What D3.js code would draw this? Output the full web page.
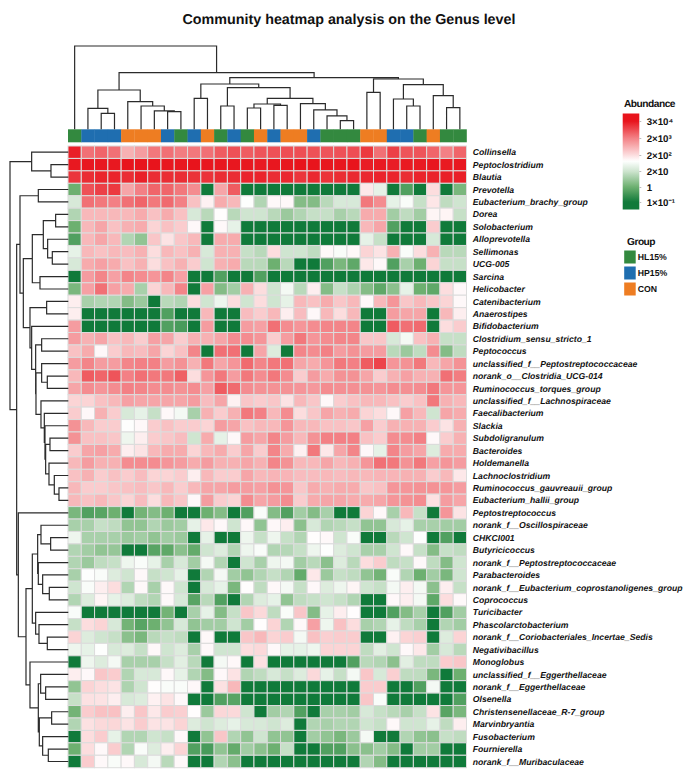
<!DOCTYPE html>
<html>
<head>
<meta charset="utf-8">
<script src="https://cdn.jsdelivr.net/npm/d3@7"></script>
<style>
body { margin: 0; background: #fff; }
text { font-family: "Liberation Sans", Arial, sans-serif; fill: #111; text-rendering: geometricPrecision; }
</style>
</head>
<body>
<svg id="chart" width="690" height="775"></svg>
<script>
const genera = ["Collinsella","Peptoclostridium","Blautia","Prevotella","Eubacterium_brachy_group","Dorea","Solobacterium","Alloprevotella","Sellimonas","UCG-005","Sarcina","Helicobacter","Catenibacterium","Anaerostipes","Bifidobacterium","Clostridium_sensu_stricto_1","Peptococcus","unclassified_f__Peptostreptococcaceae","norank_o__Clostridia_UCG-014","Ruminococcus_torques_group","unclassified_f__Lachnospiraceae","Faecalibacterium","Slackia","Subdoligranulum","Bacteroides","Holdemanella","Lachnoclostridium","Ruminococcus_gauvreauii_group","Eubacterium_hallii_group","Peptostreptococcus","norank_f__Oscillospiraceae","CHKCI001","Butyricicoccus","norank_f__Peptostreptococcaceae","Parabacteroides","norank_f__Eubacterium_coprostanoligenes_group","Coprococcus","Turicibacter","Phascolarctobacterium","norank_f__Coriobacteriales_Incertae_Sedis","Negativibacillus","Monoglobus","unclassified_f__Eggerthellaceae","norank_f__Eggerthellaceae","Olsenella","Christensenellaceae_R-7_group","Marvinbryantia","Fusobacterium","Fournierella","norank_f__Muribaculaceae"];

// group of each sample, left to right
const sampleGroups = ["HL15%","HP15%","HP15%","HP15%","CON","CON","CON","HP15%","HL15%","HP15%","CON","HL15%","HP15%","HL15%","CON","HP15%","CON","CON","HP15%","HL15%","HL15%","HL15%","CON","CON","HP15%","HP15%","HL15%","CON","HL15%","HL15%"];

const groupNames = ["HL15%","HP15%","CON"];
const groupColors = ["#33893f","#1f6eb0","#ee7d22"];

// one row per genus
const abundance = [
[22000,3000,4000,3000,600,1000,2500,3000,2200,2500,3000,5000,6500,5000,6000,6500,7000,7000,6500,6000,6500,7000,12000,3000,10000,6000,6000,4000,2000,4000],
[27000,27000,27000,27000,30000,30000,30000,27000,27000,30000,28000,28000,28000,27000,26000,28000,28000,30000,30000,28000,28000,30000,24000,26000,24000,26000,26000,28000,26000,27000],
[13000,16000,20000,20000,16000,22000,16000,16000,16000,14000,14000,16000,16000,20000,20000,16000,18000,13000,18000,14000,16000,18000,18000,20000,20000,16000,20000,20000,22000,22000],
[1,6500,10000,12000,800,2000,4000,4000,2500,1500,0.1,800,5000,0.1,0.1,0.1,0.1,0.1,0.1,0.1,0.1,0.1,150,40,0.1,0.5,0.1,200,0.1,1.5],
[25,3000,2500,2000,3000,4000,2500,3500,2000,400,120,700,500,80,8,100,100,2,2,10,25,25,2500,1500,40,70,15,160,12,20],
[8,500,500,500,500,700,400,700,400,25,10,90,10,20,20,10,4,8,15,15,6,10,700,700,5,12,5,110,110,15],
[1,500,800,400,600,700,250,400,300,100,0.1,100,40,0.1,0.1,0.1,0.1,0.1,0.1,0.1,0.1,0.1,500,800,0.5,0.1,0.1,300,0.1,0.1],
[0.5,500,800,500,8,3,350,170,350,500,0.1,700,700,0.1,0.1,0.1,0.1,0.1,0.1,0.1,0.1,0.1,40,15,0.1,0.1,0.1,25,0.1,0.1],
[40,500,400,500,450,600,200,500,400,600,25,600,600,15,10,200,20,20,12,100,70,100,250,170,600,70,200,600,10,10],
[25,700,900,700,400,600,200,400,600,300,20,600,700,10,10,1,10,0.1,0.1,0.5,1.5,0.7,150,100,0.5,6,1,250,15,15],
[0.1,1000,1800,900,1800,1500,1200,1800,900,0.1,0.1,0.5,0.1,0.1,0.5,0.1,0.1,0.1,0.1,0.1,0.1,0.1,0.1,0.1,0.1,0.1,0.1,0.1,0.1,0.1],
[1.5,900,3000,900,700,6,250,500,1800,0.1,900,2,5,600,200,20,60,10,130,2,15,7,2,0.7,2.5,40,1,0.7,200,100],
[130,6,8,8,2,4,0.1,10,8,200,20,50,200,20,200,20,40,500,400,700,350,500,100,500,1200,350,500,350,250,100],
[130,0.1,0.1,0.1,0.1,0.1,0.1,0.5,0.1,0.1,500,0.1,0.1,450,300,500,130,450,100,500,200,500,0.1,0.1,1000,800,800,0.1,500,130],
[1000,0.1,0.1,0.1,0.1,0.1,0.1,0.5,0.4,0.1,1000,0.1,0.1,1000,900,3000,1500,1200,1500,1800,1800,1800,0.1,0.1,5000,3000,3500,0.1,200,300],
[1000,600,800,400,500,300,900,800,300,600,600,800,1500,1500,1200,300,1000,2500,1200,1500,1800,1800,350,350,25,60,400,600,15,15],
[400,700,100,300,500,450,800,250,400,1800,0.1,3000,3000,0.1,800,30,0.1,1800,1500,2000,1000,1300,1000,1000,10,4,12,1500,2,12],
[1000,1800,1000,1000,1800,2000,2000,1000,1300,600,2500,800,1200,3500,1800,2500,3000,800,700,1200,2500,2000,5000,9000,1200,1300,2500,500,800,1300],
[500,5000,4000,6000,2000,3000,2500,2500,4500,200,1200,2500,1000,2500,1500,2500,1500,300,1000,700,1300,1300,800,300,600,900,600,600,3000,2200],
[800,1500,1200,1500,2000,1800,1500,1500,1300,1500,900,5000,3500,1500,1300,1300,1300,1200,1100,1500,1400,1400,1300,1200,1500,1400,1500,2500,1200,1200],
[250,250,400,500,900,800,800,800,800,1000,450,800,120,350,300,350,170,500,350,100,300,400,500,500,400,300,400,2500,600,500],
[300,100,600,300,25,40,15,100,60,6,600,300,600,2500,2000,500,1500,200,350,800,600,700,250,200,100,900,500,20,800,700],
[1300,500,300,300,80,100,300,400,300,300,250,1000,800,400,500,500,1200,500,500,400,400,350,900,300,600,600,600,300,170,600],
[1300,400,400,350,50,130,300,350,450,20,700,40,100,1000,800,1800,1000,500,1300,2000,2000,2000,400,300,1500,1500,2000,100,300,600],
[300,800,900,700,130,170,500,700,700,250,500,700,300,800,300,1800,700,120,2500,150,800,1800,100,40,1800,1000,800,30,700,700],
[500,1000,600,600,1500,1500,1500,1200,1000,700,1000,600,600,800,600,1800,1300,500,500,800,500,600,1200,3000,2500,1300,2500,900,1200,1000],
[400,600,300,400,300,450,250,250,300,130,500,300,300,800,500,550,550,450,450,500,450,500,500,550,550,600,600,300,500,150],
[500,300,300,350,400,450,350,500,300,500,800,800,1000,1000,900,1300,1200,350,700,600,700,700,350,400,1200,1200,1300,1300,1200,1000],
[500,400,500,350,250,450,200,500,350,100,1000,300,250,1500,800,1000,1500,300,700,800,800,700,700,800,1200,1300,1500,180,1000,800],
[1.5,0.5,0.6,1,0.1,1.2,2,1,0.1,0.1,1,2,0.1,0.5,70,2,0.5,5,2,6,0.1,0.1,250,100,6,500,15,0.1,1200,170],
[6,6,15,12,3,3,8,4,5,40,150,100,20,100,3,100,130,2.5,25,8,10,15,3,3,25,40,6,6,5,5],
[50,6,6,6,4,5,3,5,4,0.1,40,0.1,0.1,50,15,50,15,8,90,100,20,70,0.1,0.1,10,20,80,0.1,0.5,0.1],
[8,5,3,3.5,0.1,0.1,0.6,0.7,2.5,0.8,20,30,8,50,70,8,9,15,50,80,30,20,6,6,20,100,15,2,15,12],
[8,4,12,15,50,70,40,6,25,5,60,8,0.1,20,6,50,60,5,10,2.5,30,10,200,300,12,15,100,12,2,20],
[6,80,70,30,20,100,15,20,40,0.1,8,60,5,3,8,15,8,0.8,150,4,15,12,3,1.2,70,8,1,5,1.5,20],
[20,70,130,200,8,100,6,100,20,0.1,25,40,1.5,90,12,100,60,15,100,30,50,110,20,15,60,130,60,2.5,130,15],
[8,30,110,40,30,12,8,100,25,0.6,10,0.5,0.1,8,30,40,3,12,15,20,15,8,0.1,0.1,100,130,60,0.7,200,100],
[70,0.1,0.1,0.1,0.1,0.1,0.1,1.2,0.1,6,40,2,15,350,220,12,70,350,2,40,130,90,0.1,0.1,0.5,2,6,0.1,0.5,5],
[15,200,250,25,1.2,0.6,1,3,25,3,5,5,20,5,90,250,8,100,900,50,400,200,6,8,40,12,6,0.1,8,5],
[250,30,20,15,2.5,1.5,10,15,12,0.1,100,0.1,0.1,350,500,250,300,60,400,280,300,300,0.1,0.1,120,250,280,0.1,30,250],
[50,40,80,25,30,15,100,20,30,6,100,20,20,200,220,100,40,40,50,250,250,250,12,35,20,100,150,5,25,10],
[0.1,50,30,60,6,6,6,15,35,10,0.1,60,100,0.1,180,0.1,0.1,0.1,0.1,0.1,0.1,0.5,10,8,2.5,35,12,12,300,350],
[130,100,350,300,8,25,25,100,40,8,2,100,170,8,12,25,15,30,220,40,15,60,350,25,280,12,12,1.5,0.1,1],
[3,250,200,170,7,20,90,70,70,100,0.1,180,500,0.1,0.1,0.1,0.1,0.1,0.1,0.1,0.1,0.1,300,300,0.1,0.1,0.5,60,0.1,0.1],
[15,180,170,130,25,30,120,170,100,0.1,0.1,0.5,0.6,0.1,0.1,0.1,0.1,0.1,0.1,0.1,0.1,0.1,350,70,0.1,0.1,0.1,0.1,0.1,0.5],
[1.2,300,400,400,130,350,150,300,280,90,4,230,220,20,0.1,5,8,0.5,0.1,6,6,5,25,15,10,6,15,170,0.6,1.5],
[8,180,220,230,170,300,170,170,250,30,20,30,40,25,25,20,30,0.1,8,6,8,8,20,15,100,20,20,40,12,130],
[0.1,200,300,40,8,8,20,15,100,0.1,3,350,8,3,20,3,3,0.1,5,3,1.5,4,60,0.1,0.1,8,3,2.5,15,12],
[1,200,100,300,8,70,30,130,250,0.5,0.4,3,0.8,5,2.5,1,15,0.1,0.1,0.5,0.5,2.5,2.5,5,2,0.1,5,5,0.1,0.1],
[0.1,300,100,70,100,25,60,10,100,0.1,0.1,8,2.5,0.1,0.1,0.1,0.1,0.1,0.1,0.1,0.1,0.1,8,2,0.1,0.1,0.1,0.1,0.1,0.1]
];

// dendrograms: [merge height, left, right], a bare number is a leaf (1-based column or row)
const colTree = [250, 1, [170,
  [118, [63, 2, [48, 3, 4]], [83, 5, [70, 6, [55, 7, [53, 8, 9]]]]],
  [155,
    [136, [93, 10, 11], [125, [70, 12, 13], [93,
      [76, [64, 14, 15], [72, 16, 17]],
      [77, 18, [58, 19, [40, 20, [26, 21, 22]]]]]]],
    [151, [111, 23, 24], [134, [91, 25, [70, 26, 27]], [101, 28, [65, 29, 30]]]]]]];

const rowTree = [175, [110, 1, [52, 2, 3]], [155,
  [145, [90, 4, 5], [135,
    [108, [75, [38, 6, 7], [62, 8, [48, 9, 10]]], [85, 11, 12]],
    [115, [65, 13, 14], [110, 15, [98, [80, 16, 17], [97,
      [80, 18, [63, 19, 20]],
      [82, 21, [72, 22, [70, 23, [68, [55, 24, 25], [58, 26, [42, 27, [28, 28, 29]]]]]]]]]]]]],
  [150, 30, [127,
    [108, [92, [82, 31, [53, 32, 33]], [90, 34, [77, 35, [57, 36, 37]]]], [98, 38, [88, 39, [63, 40, 41]]]],
    [115, 42, [90, [83, 43, [68, 44, 45]], [87, [50, 46, 47], [77, 48, [60, 49, 50]]]]]]]]];

// legend
const legendTicks = [0.03, 0.1, 1, 20, 200, 2000, 30000, 80000];
const legendTickY = [209.5, 202, 187, 171, 155, 138, 121, 113.5];
const legendLabels = {0.1: "1×10⁻¹", 1: "1", 20: "2×10", 200: "2×10²", 2000: "2×10³", 30000: "3×10⁴"};

const svg = d3.select("#chart");

svg.append("text").attr("x", 349).attr("y", 24)
  .attr("text-anchor", "middle").attr("font-weight", "bold").attr("font-size", 14.3)
  .text("Community heatmap analysis on the Genus level");

const heatLeft = 68, heatRight = 466.5, heatTop = 146, heatBottom = 767.7;

const x = d3.scaleBand().domain(d3.range(1, sampleGroups.length + 1)).range([heatLeft, heatRight]);
const y = d3.scaleBand().domain(d3.range(1, genera.length + 1)).range([heatTop, heatBottom]);

const color = d3.scaleLog().domain([0.1, 1, 85, 30000])
  .range(["#107a3a", "#6db070", "#ffffff", "#e8141c"]).clamp(true);
const groupColor = d3.scaleOrdinal().domain(groupNames).range(groupColors);

// heights of the two trees
const colH = d3.scaleLinear().domain([0, 250]).range([129.3, 46]);
const rowH = d3.scaleLinear().domain([0, 175]).range([68.3, 10]);

// group strip
svg.append("g").selectAll("rect").data(sampleGroups).enter().append("rect")
  .attr("x", (d, i) => x(i + 1))
  .attr("y", 129.3)
  .attr("width", x.bandwidth() + 0.3)
  .attr("height", 13)
  .attr("fill", d => groupColor(d));

// cells
const cells = abundance.flatMap((row, r) => row.map((v, c) => ({r: r + 1, c: c + 1, v: v})));
svg.append("g").selectAll("rect").data(cells).enter().append("rect")
  .attr("x", d => x(d.c))
  .attr("y", d => y(d.r))
  .attr("width", x.bandwidth())
  .attr("height", y.bandwidth())
  .attr("fill", d => color(d.v))
  .attr("stroke", "#dcdcdc")
  .attr("stroke-width", 1);

// genus labels
svg.append("g").selectAll("text").data(genera).enter().append("text")
  .attr("x", 472.8)
  .attr("y", (d, i) => y(i + 1) + y.bandwidth() / 2 + 3.1)
  .attr("font-size", 8.67).attr("font-weight", "bold").attr("font-style", "italic")
  .text(d => d);

// walks a tree, returns the leaf-axis centre of the node and adds its links to the path
function walk(node, pos, height, link) {
  if (!Array.isArray(node)) return {at: pos(node) + pos.bandwidth() / 2, h: height(0)};
  const a = walk(node[1], pos, height, link);
  const b = walk(node[2], pos, height, link);
  const h = height(node[0]);
  link(a, b, h);
  return {at: (a.at + b.at) / 2, h: h};
}

const colPath = d3.path();
walk(colTree, x, colH, (a, b, h) => {
  colPath.moveTo(a.at, a.h); colPath.lineTo(a.at, h);
  colPath.lineTo(b.at, h); colPath.lineTo(b.at, b.h);
});
const rowPath = d3.path();
walk(rowTree, y, rowH, (a, b, h) => {
  rowPath.moveTo(a.h, a.at); rowPath.lineTo(h, a.at);
  rowPath.lineTo(h, b.at); rowPath.lineTo(b.h, b.at);
});
svg.append("path").attr("d", colPath.toString()).attr("fill", "none").attr("stroke", "#2b2b2b").attr("stroke-width", 1.2);
svg.append("path").attr("d", rowPath.toString()).attr("fill", "none").attr("stroke", "#2b2b2b").attr("stroke-width", 1.2);

// abundance legend
const legendY = d3.scaleLog().domain(legendTicks).range(legendTickY);
const grad = svg.append("defs").append("linearGradient").attr("id", "abund")
  .attr("x1", 0).attr("x2", 0).attr("y1", 0).attr("y2", 1);
d3.range(0, 1.001, 0.02).forEach(t => {
  grad.append("stop").attr("offset", t).attr("stop-color", color(legendY.invert(113.5 + t * 96)));
});

svg.append("text").attr("x", 624).attr("y", 107)
  .attr("font-size", 10.2).attr("font-weight", "bold").attr("letter-spacing", -0.5).text("Abundance");
svg.append("rect").attr("x", 622.7).attr("y", 113.5).attr("width", 16.6).attr("height", 96).attr("fill", "url(#abund)");

const legendAxis = d3.axisRight(legendY)
  .tickValues(legendTicks.filter(d => legendLabels[d]))
  .tickFormat(d => legendLabels[d])
  .tickSize(2).tickPadding(5.4);
const axisG = svg.append("g").attr("transform", "translate(639.3,0)").call(legendAxis);
axisG.select(".domain").remove();
axisG.selectAll("line").attr("stroke", "#bbb");
axisG.selectAll("text").attr("font-size", 9.7).attr("font-weight", "bold")
  .attr("font-family", "'Liberation Sans', Arial, sans-serif").attr("fill", "#111");

// group legend
svg.append("text").attr("x", 627).attr("y", 245)
  .attr("font-size", 10.2).attr("font-weight", "bold").attr("letter-spacing", -0.5).text("Group");
const groupY = d3.scaleBand().domain(groupNames).range([250.5, 298.5]);
svg.append("g").selectAll("rect").data(groupNames).enter().append("rect")
  .attr("x", 624.2).attr("y", d => groupY(d))
  .attr("width", 11.5).attr("height", 13)
  .attr("fill", d => groupColor(d));
svg.append("g").selectAll("text").data(groupNames).enter().append("text")
  .attr("x", 637.8).attr("y", d => groupY(d) + 9.7)
  .attr("font-size", 8.7).attr("font-weight", "bold")
  .text(d => d);
</script>
</body>
</html>
